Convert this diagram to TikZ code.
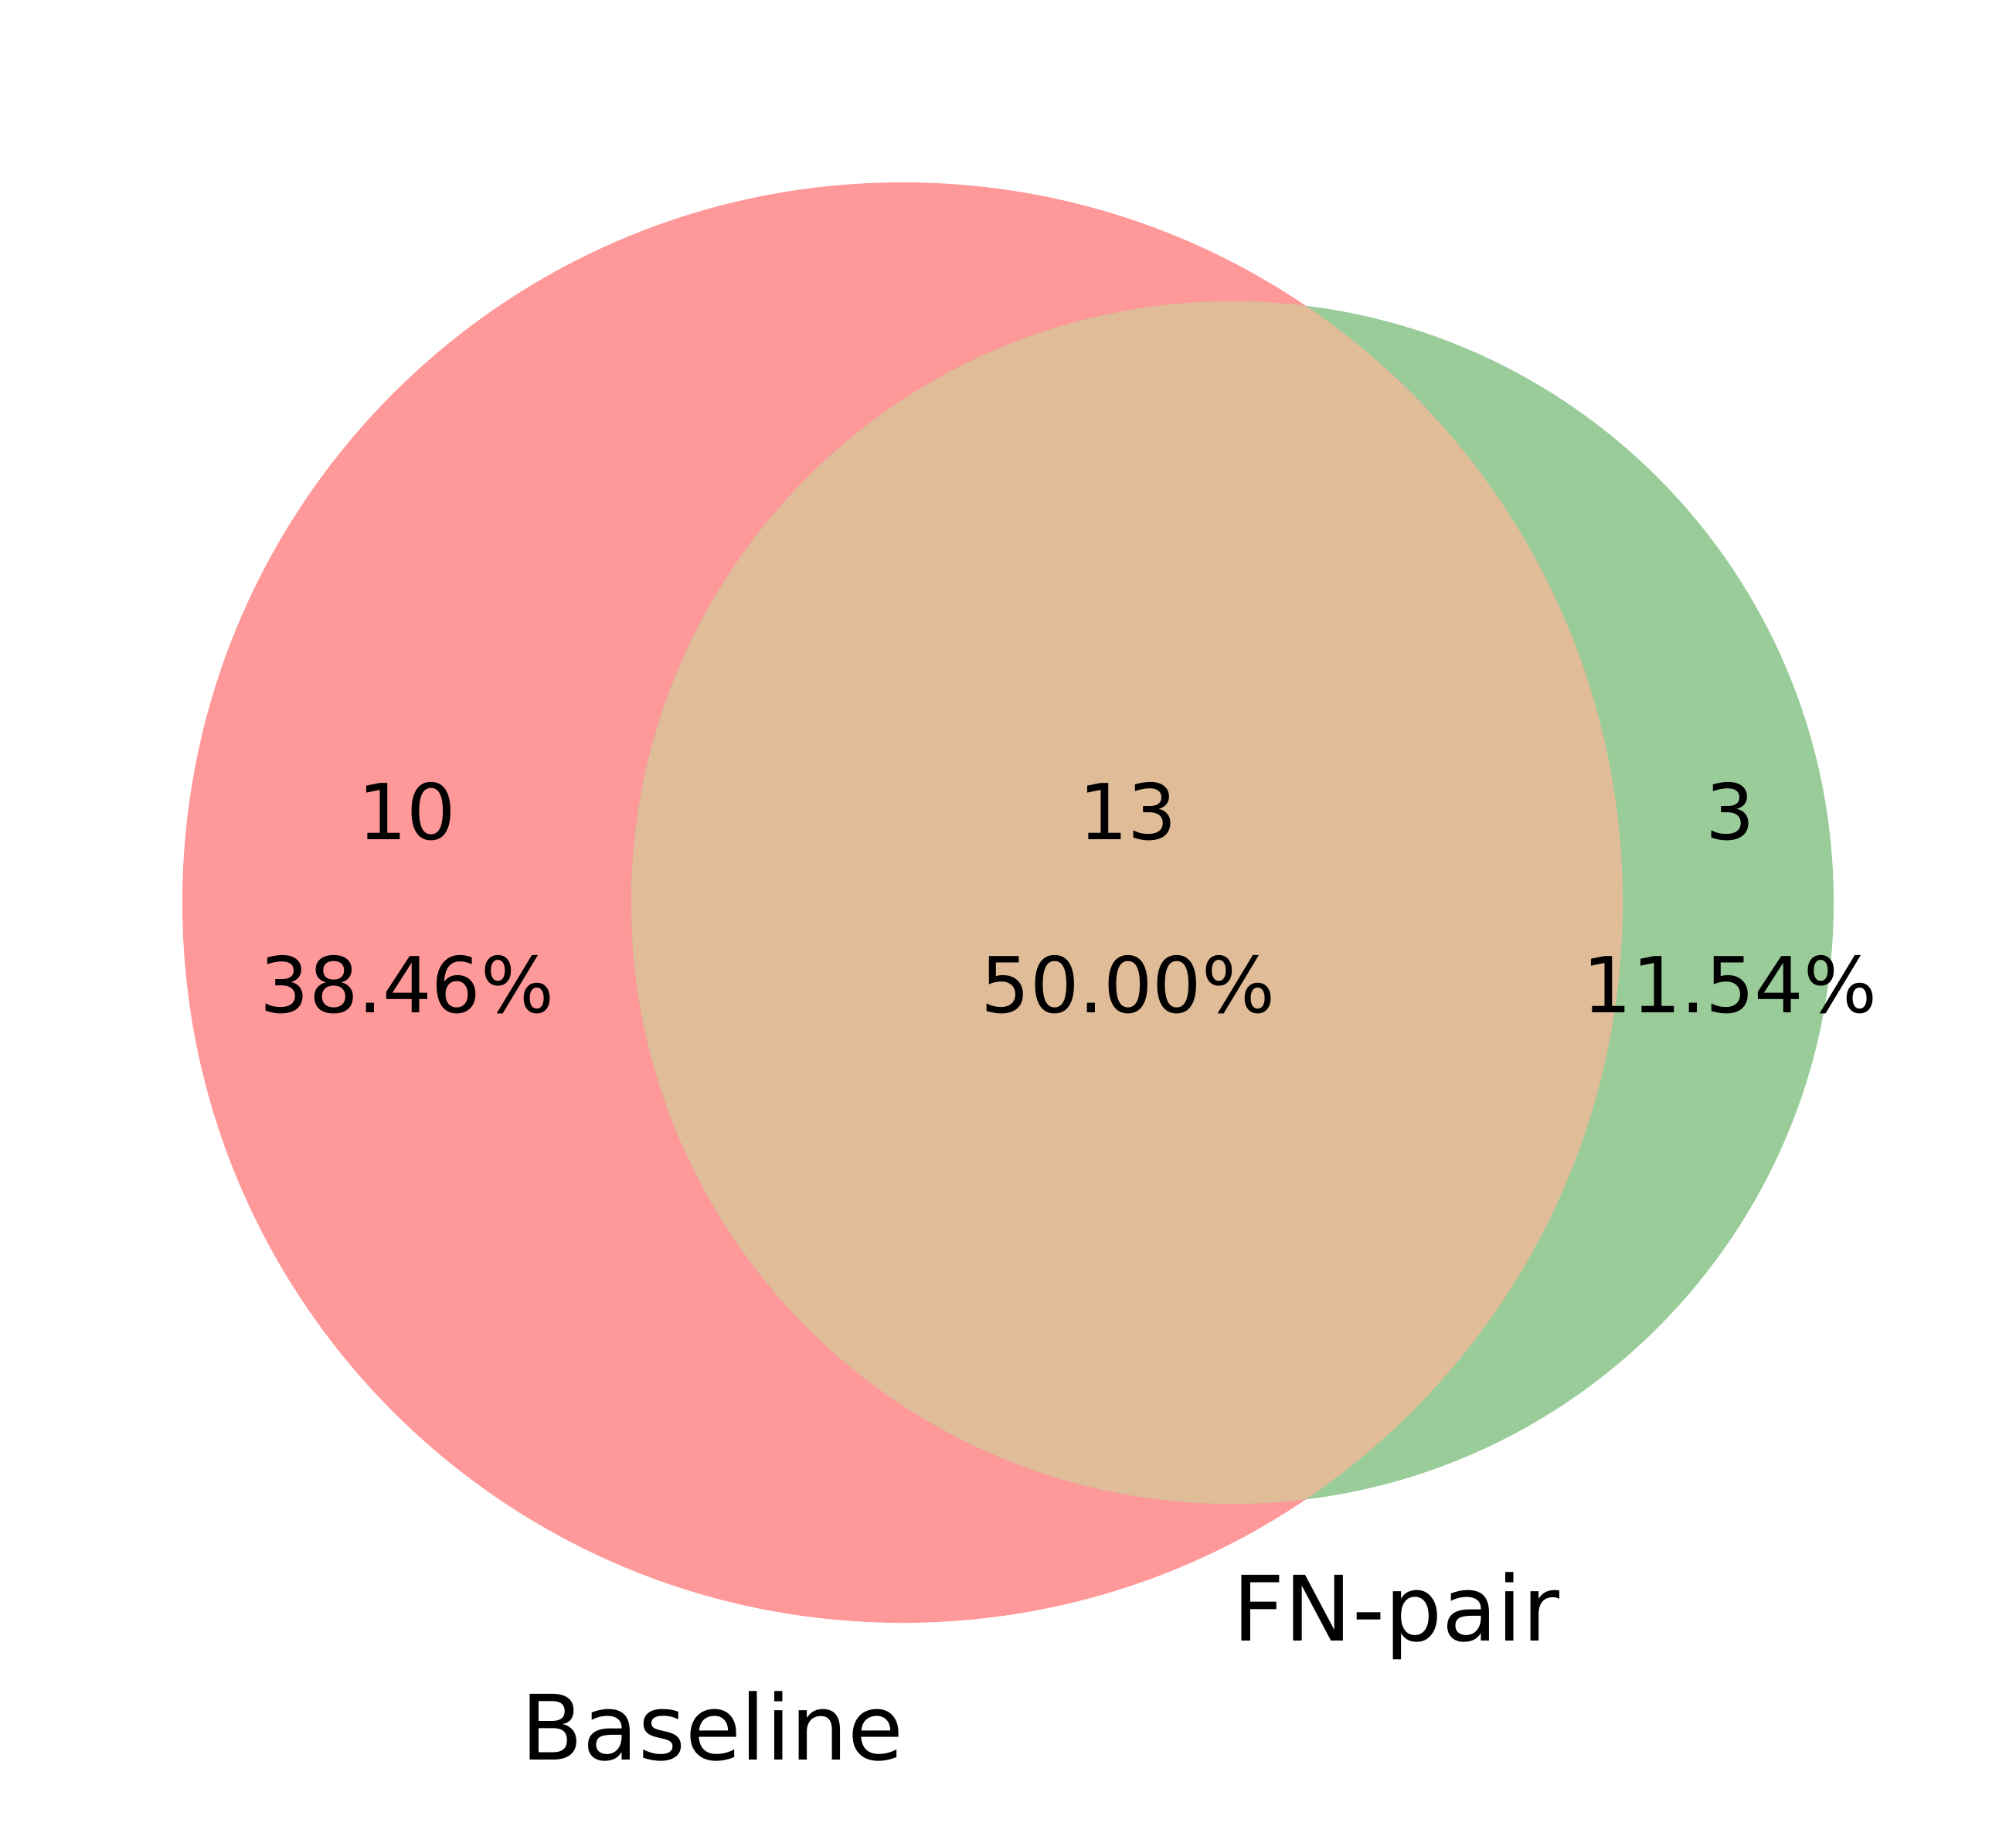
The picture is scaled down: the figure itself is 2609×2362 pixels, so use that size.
\documentclass[tikz,border=0pt]{standalone}
\usepackage{fontspec}
\setmainfont{DejaVu Sans}
\definecolor{vred}{RGB}{255,153,153}
\definecolor{vgreen}{RGB}{154,204,154}
\definecolor{vmix}{RGB}{224,188,153}
\begin{document}
\begin{tikzpicture}[x=0.01cm,y=-0.01cm,
  reglabel/.style={anchor=base,inner sep=0pt,font=\fontsize{28.4}{34}\selectfont},
  setlabel/.style={anchor=base,inner sep=0pt,font=\fontsize{33.2}{40}\selectfont}]
\useasboundingbox (0,0) rectangle (2609,2362);
\coordinate (cA) at (1168,1168);
\coordinate (cB) at (1595,1168);
\fill[vred] (cA) circle[radius=932];
\fill[vgreen] (cB) circle[radius=778];
\begin{scope}
  \clip (cA) circle[radius=932];
  \fill[vmix] (cB) circle[radius=778];
\end{scope}
\node[reglabel] (n10) at (527,1086) {10};
\node[reglabel] (p10) at (527,1310) {38.46\%};
\node[reglabel] (n11) at (1460,1086) {13};
\node[reglabel] (p11) at (1460,1310) {50.00\%};
\node[reglabel] (n01) at (2239,1086) {3};
\node[reglabel] (p01) at (2239,1310) {11.54\%};
\node[setlabel] (lA) at (922,2277) {Baseline};
\node[setlabel] (lB) at (1807,2123) {FN-pair};
\end{tikzpicture}
\end{document}
